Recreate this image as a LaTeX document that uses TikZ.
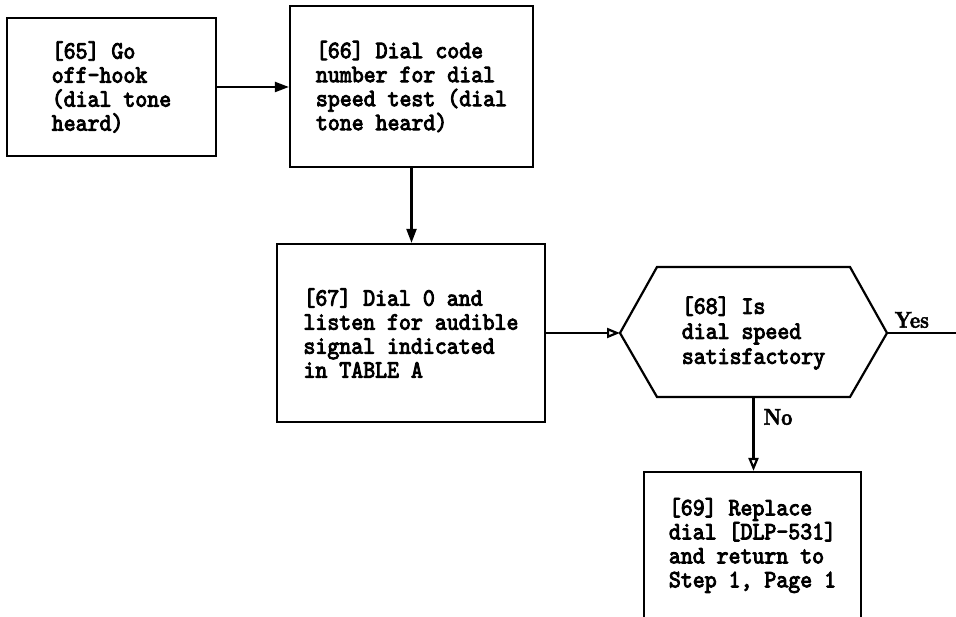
\documentclass[tikz,border=0pt]{standalone}
\usepackage{fontspec}
\usetikzlibrary{arrows.meta}
\newfontfamily\steptt{lmmono10-regular}[Extension=.otf,FakeBold=3.5,FakeStretch=0.91]
\newfontfamily\answerrm{lmroman10-bold}[Extension=.otf,FakeBold=2,FakeStretch=0.85]

\begin{document}
\begin{tikzpicture}[x=1pt,y=-1pt,line width=2.2pt,>={Triangle[length=14pt,width=10pt]},
  stepbox/.style={draw,align=left,inner sep=0pt,font=\fontsize{25}{24}\selectfont\steptt},
  asktext/.style={align=left,inner sep=0pt,font=\fontsize{25}{25}\selectfont\steptt},
  answer/.style={font=\fontsize{23}{24}\selectfont\answerrm,inner sep=1pt},
  hollow/.style={-{Triangle[open,length=13pt,width=10pt]}}]
\useasboundingbox (0,0) rectangle (956,617);
\clip (0,0) rectangle (956,617);
\node[stepbox,minimum width=209pt,minimum height=138pt] (b65) at (111.5,87) {[65] Go\\off-hook\\(dial tone\\heard)};
\node[stepbox,minimum width=243pt,minimum height=161pt] (b66) at (411.5,86.5) {[66] Dial code\\number for dial\\speed test (dial\\tone heard)};
\node[stepbox,minimum width=268pt,minimum height=178pt] (b67) at (411,333) {[67] Dial 0 and\\listen for audible\\signal indicated\\in TABLE A};
\node[asktext] (q68) at (753.5,333) {[68] Is\\dial speed\\satisfactory};
\draw (620,333) coordinate (q68w) -- (657,267) -- (850,267) -- (887,333) coordinate (q68e)
  -- (850,397) -- (753.5,397) coordinate (q68s) -- (657,397) -- cycle;
\node[stepbox,minimum width=217pt,minimum height=147pt] (b69) at (752.5,545.5) {[69] Replace\\dial [DLP-531]\\and return to\\Step 1, Page 1};
\coordinate (yesend) at (956,333);

\draw[->] (b65.east) -- (b65.east -| b66.west);
\draw[->] (b66.south) -- (b66.south |- b67.north);
\draw[hollow] (b67.east) -- (q68w);
\draw (q68e) -- (yesend) node[answer,pos=0.36,above=3pt] (yes) {Yes};
\draw[hollow] (q68s) -- (q68s |- b69.north) node[answer,pos=0.27,right=8pt] (no) {No};
\end{tikzpicture}
\end{document}
